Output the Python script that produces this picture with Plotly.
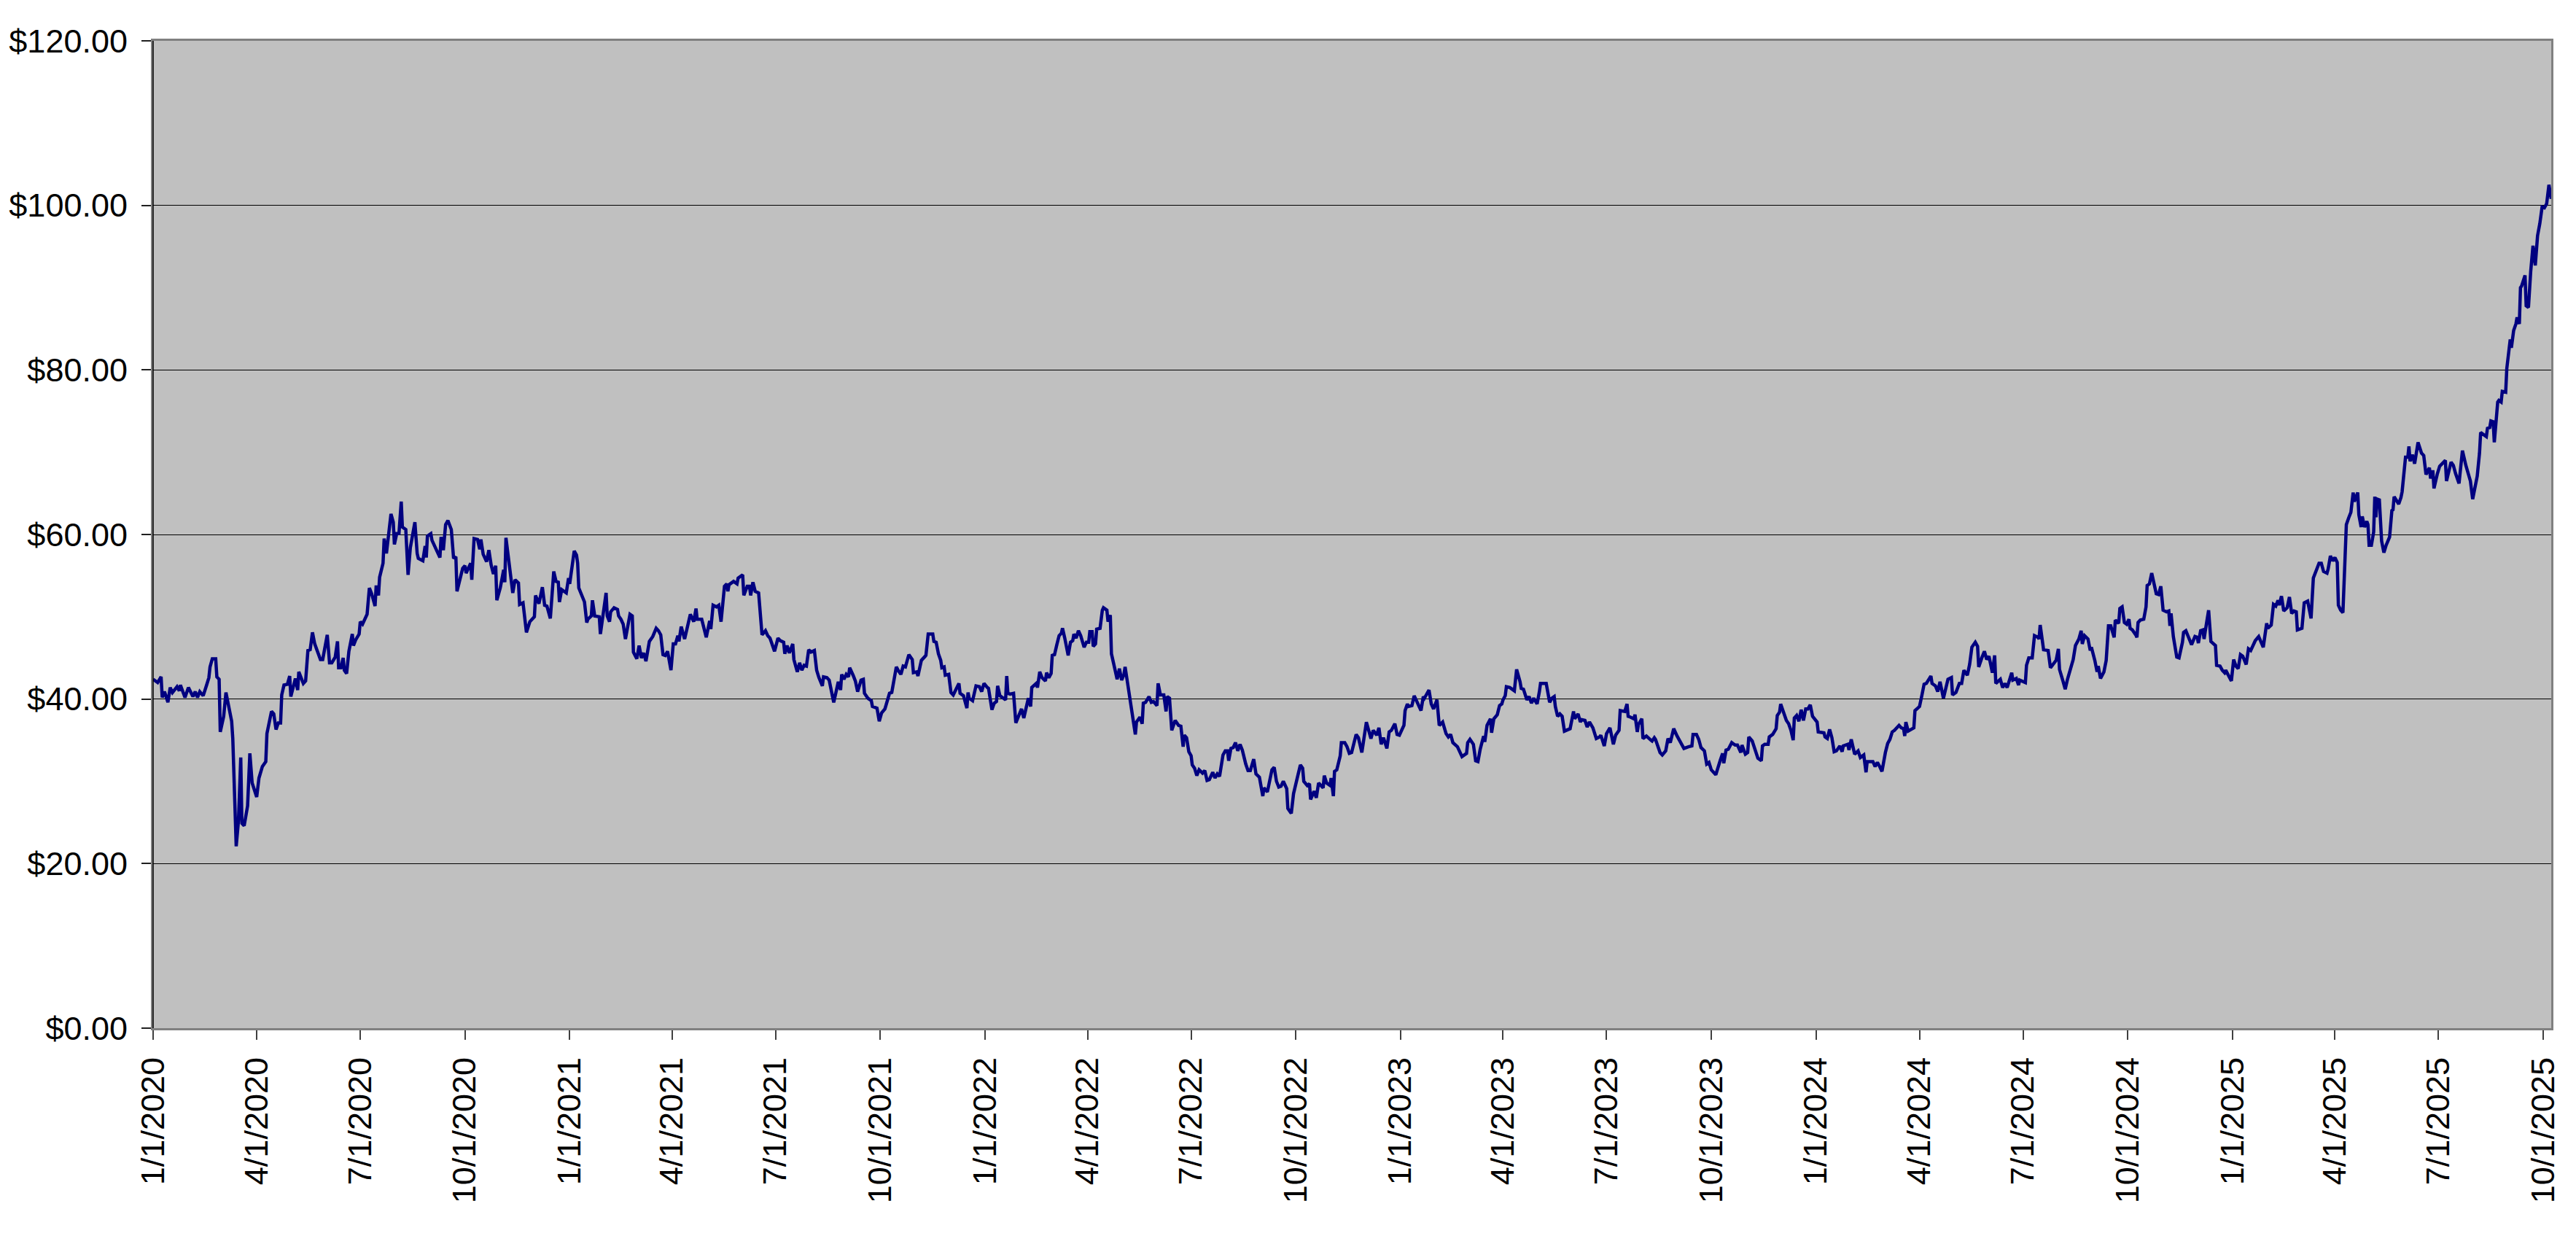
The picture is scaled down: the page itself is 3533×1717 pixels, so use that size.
import plotly.graph_objects as go

# Daily closing prices, grouped by year: (month-day, price in $)
quotes_2020 = [
    ("01-01", 42.4), ("01-05", 42.0), ("01-08", 42.7), ("01-09", 40.2), ("01-11", 40.9), ("01-14", 39.6),
    ("01-16", 41.4), ("01-18", 40.8), ("01-22", 41.5), ("01-24", 41.0), ("01-25", 41.7), ("01-29", 40.2),
    ("02-01", 41.4), ("02-05", 40.3), ("02-07", 40.9), ("02-09", 40.2), ("02-11", 40.9), ("02-14", 40.4),
    ("02-17", 41.7), ("02-19", 42.6), ("02-20", 43.9), ("02-22", 44.9), ("02-25", 44.9), ("02-26", 42.7),
    ("02-28", 42.4), ("02-29", 36.0), ("03-03", 37.9), ("03-05", 40.8), ("03-10", 37.3), ("03-11", 35.2),
    ("03-14", 22.1), ("03-16", 25.2), ("03-18", 32.9), ("03-19", 24.9), ("03-21", 24.6), ("03-24", 27.0),
    ("03-26", 33.4), ("03-28", 29.8), ("04-01", 28.1), ("04-03", 30.4), ("04-06", 31.8), ("04-09", 32.4),
    ("04-10", 35.8), ("04-14", 38.5), ("04-16", 38.2), ("04-18", 36.3), ("04-20", 37.1), ("04-22", 37.1),
    ("04-23", 40.5), ("04-25", 41.7), ("04-28", 41.8), ("04-30", 42.8), ("05-01", 40.3), ("05-04", 41.7),
    ("05-05", 42.5), ("05-07", 41.1), ("05-08", 43.3), ("05-12", 41.9), ("05-14", 42.2), ("05-16", 45.9),
    ("05-18", 46.0), ("05-20", 48.1), ("05-22", 46.7), ("05-27", 44.8), ("05-29", 44.8), ("06-02", 47.8),
    ("06-04", 44.4), ("06-06", 44.4), ("06-09", 45.1), ("06-11", 47.0), ("06-12", 43.8), ("06-14", 43.8),
    ("06-16", 45.0), ("06-17", 43.5), ("06-19", 43.1), ("06-21", 45.8), ("06-24", 47.9), ("06-25", 46.5),
    ("06-27", 47.2), ("06-30", 47.9), ("07-01", 49.4), ("07-03", 49.1), ("07-07", 50.3), ("07-09", 53.5),
    ("07-11", 52.8), ("07-14", 51.3), ("07-15", 53.8), ("07-17", 52.6), ("07-18", 54.8), ("07-21", 56.5),
    ("07-22", 59.5), ("07-24", 57.7), ("07-26", 60.0), ("07-28", 62.5), ("07-30", 61.5), ("07-31", 58.8),
    ("08-02", 60.1), ("08-04", 60.1), ("08-06", 64.0), ("08-07", 60.9), ("08-10", 60.6), ("08-12", 55.1),
    ("08-14", 58.4), ("08-18", 61.5), ("08-20", 57.7), ("08-21", 57.1), ("08-25", 56.8), ("08-27", 58.6),
    ("08-28", 57.2), ("08-29", 59.8), ("09-01", 60.1), ("09-02", 59.3), ("09-09", 57.2), ("09-10", 59.7),
    ("09-12", 58.1), ("09-14", 61.2), ("09-16", 61.7), ("09-19", 60.6), ("09-21", 57.1), ("09-23", 57.3),
    ("09-24", 53.1), ("09-26", 54.2), ("09-29", 55.9), ("10-01", 56.2), ("10-02", 55.3), ("10-06", 56.5),
    ("10-07", 54.5), ("10-09", 59.5), ("10-12", 59.4), ("10-14", 58.2), ("10-15", 59.4), ("10-17", 57.6),
    ("10-20", 56.7), ("10-22", 58.1), ("10-24", 56.3), ("10-26", 55.2), ("10-28", 56.2), ("10-29", 52.0),
    ("11-01", 53.5), ("11-04", 55.7), ("11-05", 54.2), ("11-06", 59.6), ("11-09", 56.6), ("11-12", 52.9),
    ("11-14", 54.5), ("11-17", 54.1), ("11-18", 51.5), ("11-21", 51.7), ("11-24", 48.1), ("11-27", 49.4),
    ("12-01", 50.0), ("12-02", 52.6), ("12-05", 51.6), ("12-08", 53.6), ("12-10", 51.4), ("12-12", 51.3),
    ("12-15", 49.8), ("12-18", 55.5), ("12-20", 54.3), ("12-22", 54.2), ("12-23", 51.8), ("12-25", 53.3),
    ("12-29", 52.9), ("12-31", 54.7),
]

quotes_2021 = [
    ("01-01", 54.0), ("01-05", 58.0), ("01-07", 57.5), ("01-08", 56.5), ("01-09", 53.5), ("01-12", 52.6),
    ("01-14", 51.8), ("01-16", 49.3), ("01-17", 49.7), ("01-20", 50.1), ("01-21", 52.0), ("01-23", 50.1),
    ("01-27", 50.0), ("01-28", 47.9), ("01-30", 50.1), ("02-02", 52.9), ("02-03", 50.1), ("02-05", 49.4),
    ("02-06", 50.6), ("02-09", 51.1), ("02-12", 50.9), ("02-13", 50.1), ("02-15", 49.7), ("02-17", 49.1),
    ("02-19", 47.3), ("02-23", 50.3), ("02-25", 50.1), ("02-26", 45.7), ("03-01", 44.9), ("03-03", 46.5),
    ("03-05", 45.0), ("03-07", 45.6), ("03-09", 44.6), ("03-11", 46.4), ("03-12", 47.0), ("03-15", 47.6),
    ("03-18", 48.6), ("03-20", 48.3), ("03-22", 47.8), ("03-24", 45.4), ("03-26", 45.3), ("03-28", 45.8),
    ("03-31", 43.5), ("04-02", 46.7), ("04-04", 46.7), ("04-06", 47.7), ("04-07", 47.0), ("04-09", 48.8),
    ("04-12", 47.3), ("04-14", 48.5), ("04-17", 50.3), ("04-20", 49.4), ("04-22", 51.0), ("04-23", 49.7),
    ("04-27", 49.7), ("04-29", 48.6), ("05-01", 47.5), ("05-04", 49.5), ("05-05", 48.5), ("05-07", 51.4),
    ("05-10", 51.2), ("05-12", 51.4), ("05-14", 49.4), ("05-17", 53.7), ("05-19", 54.0), ("05-20", 53.1),
    ("05-21", 53.9), ("05-25", 54.3), ("05-28", 54.0), ("05-29", 54.7), ("06-02", 55.1), ("06-03", 52.6),
    ("06-06", 53.7), ("06-08", 53.7), ("06-09", 52.6), ("06-11", 54.2), ("06-13", 53.1), ("06-16", 52.9),
    ("06-17", 50.9), ("06-19", 47.8), ("06-22", 48.3), ("06-24", 47.7), ("06-26", 47.4), ("06-30", 45.8),
    ("07-03", 47.4), ("07-05", 47.1), ("07-08", 46.9), ("07-09", 45.5), ("07-11", 46.5), ("07-13", 45.6),
    ("07-16", 46.7), ("07-17", 44.8), ("07-20", 43.3), ("07-22", 44.4), ("07-24", 43.5), ("07-26", 44.1),
    ("07-28", 44.0), ("07-30", 46.0), ("08-01", 45.7), ("08-04", 45.9), ("08-06", 43.5), ("08-08", 42.6),
    ("08-11", 41.6), ("08-12", 42.7), ("08-15", 42.6), ("08-17", 42.3), ("08-21", 39.6), ("08-23", 41.1),
    ("08-25", 42.1), ("08-27", 41.1), ("08-28", 43.0), ("08-30", 42.4), ("09-01", 43.0), ("09-03", 42.7),
    ("09-04", 43.8), ("09-07", 42.9), ("09-09", 42.2), ("09-11", 40.9), ("09-14", 42.3), ("09-16", 42.4),
    ("09-17", 40.7), ("09-20", 40.1), ("09-23", 39.8), ("09-24", 39.1), ("09-28", 38.9), ("09-30", 37.3),
    ("10-02", 38.3), ("10-05", 38.8), ("10-07", 39.9), ("10-09", 40.7), ("10-11", 40.8), ("10-15", 43.9),
    ("10-17", 43.4), ("10-19", 43.0), ("10-21", 44.0), ("10-23", 43.9), ("10-26", 45.4), ("10-29", 44.8),
    ("10-30", 43.2), ("11-02", 43.3), ("11-03", 42.8), ("11-04", 43.5), ("11-06", 44.7), ("11-10", 45.3),
    ("11-12", 47.9), ("11-16", 47.9), ("11-17", 47.0), ("11-19", 46.9), ("11-21", 45.5), ("11-23", 44.7),
    ("11-24", 43.8), ("11-26", 43.9), ("11-27", 42.9), ("11-30", 43.0), ("12-02", 40.8), ("12-04", 40.5),
    ("12-06", 41.1), ("12-09", 41.9), ("12-10", 40.7), ("12-13", 40.4), ("12-16", 38.9), ("12-17", 40.8),
    ("12-18", 40.1), ("12-21", 39.8), ("12-24", 41.6), ("12-27", 41.5), ("12-29", 40.9), ("12-31", 41.9),
]

quotes_2022 = [
    ("01-03", 41.4), ("01-04", 41.3), ("01-07", 38.7), ("01-09", 39.5), ("01-11", 39.7), ("01-12", 41.6),
    ("01-14", 40.4), ("01-17", 40.1), ("01-19", 39.9), ("01-20", 42.8), ("01-21", 40.7), ("01-23", 40.6),
    ("01-26", 40.7), ("01-28", 37.1), ("01-30", 37.9), ("02-02", 38.8), ("02-04", 37.7), ("02-06", 39.0),
    ("02-08", 40.1), ("02-10", 39.1), ("02-11", 41.4), ("02-15", 41.9), ("02-16", 41.4), ("02-18", 43.3),
    ("02-20", 42.6), ("02-23", 42.2), ("02-24", 43.2), ("02-26", 42.6), ("02-28", 43.1), ("03-01", 45.3),
    ("03-03", 45.4), ("03-05", 46.6), ("03-07", 47.7), ("03-09", 48.0), ("03-10", 48.6), ("03-12", 47.4),
    ("03-15", 45.3), ("03-17", 46.9), ("03-19", 47.1), ("03-20", 47.9), ("03-22", 47.4), ("03-24", 48.3),
    ("03-26", 47.7), ("03-29", 46.3), ("03-31", 46.9), ("04-02", 46.9), ("04-03", 48.2), ("04-05", 48.2),
    ("04-06", 46.4), ("04-08", 46.7), ("04-09", 48.5), ("04-12", 48.6), ("04-14", 50.8), ("04-15", 51.1),
    ("04-18", 50.8), ("04-19", 49.4), ("04-21", 50.2), ("04-22", 45.5), ("04-25", 43.8), ("04-27", 42.4),
    ("04-29", 43.7), ("05-01", 42.3), ("05-03", 43.0), ("05-04", 43.9), ("05-06", 42.1), ("05-09", 39.4),
    ("05-11", 37.7), ("05-13", 35.7), ("05-14", 37.2), ("05-17", 37.8), ("05-19", 37.0), ("05-20", 39.5),
    ("05-22", 39.6), ("05-25", 40.3), ("05-27", 39.6), ("05-29", 39.7), ("06-01", 39.2), ("06-02", 41.9),
    ("06-04", 40.5), ("06-07", 40.5), ("06-09", 38.5), ("06-10", 40.3), ("06-12", 40.1), ("06-14", 36.2),
    ("06-17", 37.4), ("06-20", 36.8), ("06-22", 36.7), ("06-24", 34.2), ("06-25", 35.6), ("06-27", 35.3),
    ("06-29", 33.6), ("07-01", 33.1), ("07-02", 32.0), ("07-04", 31.6), ("07-06", 30.7), ("07-08", 31.4),
    ("07-11", 31.0), ("07-13", 31.3), ("07-15", 30.1), ("07-17", 30.2), ("07-20", 31.1), ("07-22", 30.4),
    ("07-24", 30.9), ("07-26", 30.6), ("07-29", 33.2), ("07-31", 33.7), ("08-02", 33.7), ("08-03", 32.5),
    ("08-05", 34.0), ("08-07", 34.1), ("08-09", 34.7), ("08-11", 33.7), ("08-13", 34.5), ("08-15", 33.8),
    ("08-18", 32.1), ("08-20", 31.3), ("08-22", 31.3), ("08-25", 32.7), ("08-27", 30.9), ("08-30", 30.5),
    ("09-02", 28.2), ("09-03", 29.2), ("09-06", 28.7), ("09-08", 30.0), ("09-10", 31.4), ("09-12", 31.7),
    ("09-14", 30.0), ("09-16", 29.3), ("09-18", 29.4), ("09-20", 30.0), ("09-23", 29.1), ("09-24", 26.7),
    ("09-27", 26.1), ("09-29", 28.5), ("10-01", 29.8), ("10-03", 31.1), ("10-05", 32.0), ("10-07", 31.6),
    ("10-08", 30.0), ("10-11", 29.5), ("10-13", 29.7), ("10-14", 27.8), ("10-17", 28.8), ("10-19", 28.0),
    ("10-21", 29.8), ("10-23", 29.5), ("10-25", 29.2), ("10-26", 30.7), ("10-28", 29.8), ("10-31", 29.5),
    ("11-01", 30.4), ("11-03", 28.2), ("11-04", 31.2), ("11-06", 31.4), ("11-09", 33.1), ("11-10", 34.7),
    ("11-13", 34.7), ("11-15", 34.2), ("11-17", 33.4), ("11-19", 33.5), ("11-23", 35.7), ("11-25", 35.3),
    ("11-28", 33.5), ("12-02", 37.2), ("12-04", 36.0), ("12-06", 35.2), ("12-08", 36.2), ("12-11", 35.6),
    ("12-13", 36.5), ("12-15", 34.5), ("12-17", 35.3), ("12-20", 34.0), ("12-22", 36.0), ("12-24", 36.2),
    ("12-27", 37.0), ("12-29", 35.7), ("12-31", 35.6),
]

quotes_2023 = [
    ("01-04", 36.8), ("01-05", 38.6), ("01-07", 39.4), ("01-08", 39.1), ("01-11", 39.2), ("01-13", 40.4),
    ("01-16", 39.6), ("01-19", 38.6), ("01-21", 40.3), ("01-22", 40.1), ("01-26", 41.1), ("01-28", 39.4),
    ("01-30", 38.8), ("02-02", 39.9), ("02-04", 36.8), ("02-07", 37.2), ("02-10", 35.8), ("02-12", 35.4),
    ("02-14", 35.7), ("02-16", 34.7), ("02-20", 34.2), ("02-23", 33.4), ("02-24", 33.0), ("02-28", 33.4),
    ("03-01", 34.7), ("03-03", 35.1), ("03-06", 34.5), ("03-08", 32.5), ("03-10", 32.4), ("03-12", 33.9),
    ("03-15", 35.5), ("03-16", 34.8), ("03-18", 36.8), ("03-21", 37.6), ("03-22", 35.9), ("03-24", 37.6),
    ("03-26", 37.9), ("03-27", 38.1), ("03-29", 39.2), ("03-31", 39.4), ("04-01", 39.9), ("04-03", 40.4),
    ("04-04", 41.5), ("04-07", 41.4), ("04-11", 41.0), ("04-12", 42.4), ("04-13", 43.6), ("04-16", 42.1),
    ("04-17", 41.3), ("04-19", 41.2), ("04-22", 39.9), ("04-24", 40.3), ("04-26", 39.5), ("04-28", 40.1),
    ("05-01", 39.4), ("05-03", 40.9), ("05-04", 41.9), ("05-09", 41.9), ("05-12", 39.6), ("05-14", 40.1),
    ("05-16", 40.3), ("05-17", 39.1), ("05-19", 37.9), ("05-21", 38.2), ("05-23", 37.9), ("05-25", 36.1),
    ("05-28", 36.3), ("05-30", 36.4), ("06-02", 38.5), ("06-03", 37.6), ("06-06", 38.2), ("06-08", 37.2),
    ("06-09", 37.5), ("06-12", 37.4), ("06-14", 36.6), ("06-16", 37.2), ("06-19", 36.5), ("06-22", 35.2),
    ("06-25", 35.4), ("06-26", 35.6), ("06-29", 34.3), ("07-01", 35.8), ("07-04", 36.5), ("07-07", 34.5),
    ("07-09", 35.6), ("07-12", 36.2), ("07-13", 38.6), ("07-15", 38.5), ("07-17", 38.5), ("07-19", 39.4),
    ("07-20", 37.9), ("07-22", 37.8), ("07-25", 37.6), ("07-26", 38.1), ("07-28", 36.0), ("07-29", 36.9),
    ("08-01", 37.6), ("08-02", 35.2), ("08-05", 35.5), ("08-09", 35.0), ("08-10", 34.9), ("08-12", 35.3),
    ("08-13", 35.1), ("08-17", 33.5), ("08-19", 33.2), ("08-22", 33.7), ("08-24", 35.2), ("08-26", 34.7),
    ("08-29", 36.4), ("09-01", 35.5), ("09-05", 34.6), ("09-07", 34.0), ("09-11", 34.2), ("09-14", 34.3),
    ("09-15", 35.7), ("09-18", 35.7), ("09-20", 35.1), ("09-22", 34.1), ("09-25", 33.7), ("09-27", 32.1),
    ("09-29", 32.3), ("10-01", 31.4), ("10-05", 30.8), ("10-07", 31.8), ("10-09", 32.6), ("10-11", 33.4),
    ("10-12", 32.2), ("10-14", 33.8), ("10-16", 33.9), ("10-19", 34.7), ("10-22", 34.4), ("10-24", 34.4),
    ("10-27", 33.5), ("10-28", 34.4), ("10-31", 33.3), ("11-02", 33.5), ("11-03", 35.4), ("11-06", 34.9),
    ("11-09", 33.6), ("11-11", 32.8), ("11-14", 32.5), ("11-15", 34.3), ("11-17", 34.5), ("11-20", 34.5),
    ("11-21", 35.4), ("11-24", 35.7), ("11-27", 36.4), ("11-28", 38.0), ("11-30", 38.4), ("12-01", 39.4),
    ("12-03", 38.6), ("12-06", 37.4), ("12-08", 37.0), ("12-10", 36.2), ("12-12", 35.0), ("12-13", 37.7),
    ("12-15", 38.0), ("12-17", 37.3), ("12-19", 38.7), ("12-21", 37.4), ("12-23", 38.8), ("12-25", 38.8),
    ("12-27", 39.3), ("12-29", 37.9),
]

quotes_2024 = [
    ("01-02", 37.2), ("01-03", 36.0), ("01-08", 35.9), ("01-09", 35.4), ("01-11", 35.2), ("01-13", 36.3),
    ("01-15", 35.3), ("01-17", 33.6), ("01-19", 33.7), ("01-22", 34.3), ("01-24", 33.6), ("01-25", 34.3),
    ("01-29", 34.5), ("01-30", 33.8), ("02-01", 35.1), ("02-03", 33.7), ("02-04", 33.3), ("02-07", 33.7),
    ("02-09", 32.9), ("02-12", 33.2), ("02-14", 31.1), ("02-15", 32.4), ("02-17", 32.4), ("02-20", 32.4),
    ("02-22", 31.8), ("02-24", 32.3), ("02-26", 31.8), ("02-28", 31.2), ("03-02", 33.5), ("03-04", 34.6),
    ("03-06", 35.1), ("03-08", 36.0), ("03-10", 36.2), ("03-12", 36.5), ("03-14", 36.8), ("03-16", 36.5),
    ("03-18", 36.4), ("03-19", 35.5), ("03-20", 37.2), ("03-22", 36.1), ("03-24", 36.3), ("03-27", 36.5),
    ("03-28", 38.6), ("04-01", 39.1), ("04-03", 40.4), ("04-04", 41.1), ("04-05", 41.8), ("04-07", 41.9),
    ("04-09", 42.3), ("04-11", 42.8), ("04-12", 41.9), ("04-15", 41.6), ("04-17", 40.9), ("04-19", 42.1),
    ("04-22", 40.1), ("04-25", 41.6), ("04-26", 42.4), ("04-29", 42.6), ("04-30", 40.5), ("05-03", 40.8),
    ("05-06", 41.9), ("05-08", 41.9), ("05-10", 43.5), ("05-13", 42.9), ("05-15", 44.2), ("05-17", 46.3),
    ("05-20", 46.9), ("05-22", 46.4), ("05-23", 43.9), ("05-26", 45.1), ("05-28", 45.8), ("05-30", 44.8),
    ("06-01", 45.2), ("06-04", 43.2), ("06-06", 45.3), ("06-07", 41.9), ("06-11", 42.4), ("06-13", 41.4),
    ("06-15", 41.9), ("06-17", 41.4), ("06-21", 43.2), ("06-22", 42.3), ("06-25", 42.5), ("06-27", 41.7),
    ("06-28", 42.3), ("07-03", 42.0), ("07-04", 44.1), ("07-06", 45.0), ("07-09", 45.0), ("07-11", 47.7),
    ("07-14", 47.5), ("07-15", 47.3), ("07-16", 49.0), ("07-19", 46.0), ("07-23", 45.9), ("07-25", 43.8),
    ("07-28", 44.4), ("07-30", 44.7), ("08-01", 46.1), ("08-02", 43.6), ("08-05", 42.2), ("08-07", 41.2),
    ("08-09", 42.4), ("08-12", 43.8), ("08-14", 44.8), ("08-16", 46.5), ("08-19", 47.3), ("08-21", 48.3),
    ("08-22", 46.7), ("08-24", 47.7), ("08-27", 47.3), ("08-29", 45.9), ("08-30", 46.3), ("09-02", 44.7),
    ("09-04", 43.3), ("09-05", 44.0), ("09-07", 42.5), ("09-10", 43.3), ("09-12", 44.7), ("09-14", 48.9),
    ("09-16", 48.9), ("09-19", 47.5), ("09-20", 49.6), ("09-23", 49.2), ("09-24", 51.0), ("09-26", 51.2),
    ("09-28", 49.3), ("09-30", 49.1), ("10-02", 49.7), ("10-03", 48.6), ("10-05", 48.4), ("10-08", 47.8),
    ("10-09", 47.5), ("10-10", 49.3), ("10-12", 49.6), ("10-15", 49.7), ("10-17", 51.2), ("10-18", 53.8),
    ("10-20", 54.0), ("10-22", 55.3), ("10-24", 53.8), ("10-26", 52.8), ("10-28", 52.7), ("10-30", 53.7),
    ("11-01", 50.8), ("11-04", 50.6), ("11-06", 50.7), ("11-07", 48.9), ("11-08", 50.4), ("11-10", 47.6),
    ("11-13", 45.1), ("11-15", 45.0), ("11-18", 46.9), ("11-19", 48.1), ("11-21", 48.3), ("11-24", 47.1),
    ("11-26", 46.6), ("11-29", 47.6), ("12-01", 47.5), ("12-02", 46.8), ("12-04", 48.3), ("12-06", 48.4),
    ("12-07", 47.3), ("12-09", 49.1), ("12-11", 50.8), ("12-13", 47.0), ("12-17", 46.5), ("12-18", 44.1),
    ("12-21", 44.0), ("12-23", 43.5), ("12-25", 43.2), ("12-26", 43.5), ("12-31", 42.2),
]

quotes_2025 = [
    ("01-02", 44.8), ("01-04", 44.0), ("01-06", 43.7), ("01-08", 45.4), ("01-10", 45.2), ("01-13", 44.2),
    ("01-15", 46.1), ("01-17", 45.9), ("01-21", 47.1), ("01-24", 47.6), ("01-28", 46.3), ("01-31", 49.2),
    ("02-01", 48.6), ("02-04", 49.0), ("02-06", 51.5), ("02-08", 51.3), ("02-10", 52.0), ("02-11", 51.4),
    ("02-13", 52.5), ("02-15", 50.7), ("02-18", 51.1), ("02-20", 52.4), ("02-22", 50.4), ("02-24", 50.7),
    ("02-26", 50.6), ("02-27", 48.4), ("03-03", 48.6), ("03-05", 51.7), ("03-08", 51.9), ("03-11", 49.8),
    ("03-13", 54.7), ("03-16", 55.8), ("03-18", 56.5), ("03-20", 56.5), ("03-22", 55.5), ("03-25", 55.3),
    ("03-26", 55.8), ("03-28", 57.4), ("03-30", 56.8), ("04-01", 57.2), ("04-03", 56.6), ("04-04", 51.4),
    ("04-06", 50.8), ("04-08", 50.5), ("04-11", 61.2), ("04-13", 62.0), ("04-15", 62.7), ("04-17", 65.1),
    ("04-18", 64.0), ("04-21", 65.1), ("04-22", 62.4), ("04-24", 60.9), ("04-25", 62.2), ("04-27", 60.9),
    ("04-29", 61.6), ("04-30", 61.2), ("05-01", 58.7), ("05-03", 58.7), ("05-05", 60.3), ("05-06", 64.6),
    ("05-07", 62.1), ("05-08", 64.3), ("05-10", 64.2), ("05-12", 59.2), ("05-14", 57.8), ("05-16", 58.7),
    ("05-19", 59.7), ("05-21", 62.9), ("05-22", 63.0), ("05-23", 64.6), ("05-27", 63.7), ("05-29", 64.5),
    ("05-30", 65.2), ("06-02", 69.4), ("06-04", 69.4), ("06-05", 70.7), ("06-06", 68.9), ("06-08", 69.7),
    ("06-10", 68.6), ("06-13", 71.2), ("06-16", 69.9), ("06-18", 69.6), ("06-20", 67.3), ("06-23", 68.1),
    ("06-24", 66.8), ("06-26", 67.8), ("06-27", 65.6), ("06-30", 67.4), ("07-02", 68.3), ("07-07", 69.0),
    ("07-08", 66.5), ("07-12", 68.8), ("07-14", 68.4), ("07-16", 67.4), ("07-19", 66.2), ("07-22", 70.2),
    ("07-25", 68.4), ("07-29", 66.5), ("07-31", 64.3), ("08-04", 67.1), ("08-06", 69.9), ("08-07", 72.4),
    ("08-09", 72.2), ("08-12", 71.9), ("08-13", 72.9), ("08-15", 73.0), ("08-16", 73.8), ("08-18", 73.7),
    ("08-19", 71.2), ("08-22", 76.1), ("08-23", 76.3), ("08-25", 76.1), ("08-26", 77.4), ("08-29", 77.3),
    ("08-30", 80.2), ("08-31", 81.7), ("09-02", 83.7), ("09-03", 82.7), ("09-05", 84.8), ("09-07", 85.6),
    ("09-08", 86.4), ("09-10", 85.6), ("09-11", 90.0), ("09-12", 90.2), ("09-15", 91.5), ("09-16", 87.8),
    ("09-18", 87.6), ("09-20", 92.0), ("09-22", 95.1), ("09-24", 92.7), ("09-26", 96.3), ("09-28", 97.8),
    ("09-30", 99.8), ("10-02", 99.7), ("10-04", 100.2), ("10-06", 102.5), ("10-08", 100.8),
]

quotes_by_year = {
    2020: quotes_2020, 2021: quotes_2021, 2022: quotes_2022,
    2023: quotes_2023, 2024: quotes_2024, 2025: quotes_2025,
}

x_start = "2020-01-01"
x_end = "2025-10-08"
y_tick_values = [0, 20, 40, 60, 80, 100, 120]
y_tick_labels = ["$0.00", "$20.00", "$40.00", "$60.00", "$80.00", "$100.00", "$120.00"]

dates, prices = [], []
for year, rows in quotes_by_year.items():
    for md, p in rows:
        dates.append(f"{year}-{md}")
        prices.append(p)

FONT = "Liberation Sans, Arial, Helvetica, sans-serif"

fig = go.Figure()
fig.add_trace(go.Scatter(
    x=dates, y=prices, mode="lines",
    line=dict(color="#000080", width=4.5),
    showlegend=False, hoverinfo="x+y",
))

# the page body adds an 8px offset; the figure is sized so the plot lands where the reference has it
fig.update_layout(
    width=3525, height=1709,
    margin=dict(l=202, r=34, t=48, b=307, pad=0),
    paper_bgcolor="white",
    plot_bgcolor="#C0C0C0",
    font=dict(family=FONT, size=45, color="black"),
    showlegend=False,
)

fig.update_xaxes(
    type="date",
    automargin=False,
    range=[x_start, x_end],
    tick0=x_start, dtick="M3",
    tickformat="%-m/%-d/%Y",
    tickangle=-90,
    ticks="outside", ticklen=13, tickwidth=2, tickcolor="#404040",
    ticklabelstandoff=6,
    showgrid=False, zeroline=False,
    showline=True, linecolor="#808080", linewidth=3, mirror=True,
    tickfont=dict(family=FONT, size=45, color="black"),
)

fig.update_yaxes(
    automargin=False,
    range=[0, 120],
    tickvals=y_tick_values,
    ticktext=y_tick_labels,
    ticks="outside", ticklen=13, tickwidth=2, tickcolor="#202020",
    ticklabelstandoff=10,
    showgrid=True, gridcolor="black", gridwidth=1,
    zeroline=False,
    showline=True, linecolor="#808080", linewidth=3, mirror=True,
    tickfont=dict(family=FONT, size=45, color="black"),
)

# dark left axis line on top of the gray frame
fig.add_shape(type="line", xref="paper", yref="paper", x0=0, x1=0, y0=0, y1=1,
              line=dict(color="#000000", width=1.5), layer="above")

fig.write_html("out.html")
